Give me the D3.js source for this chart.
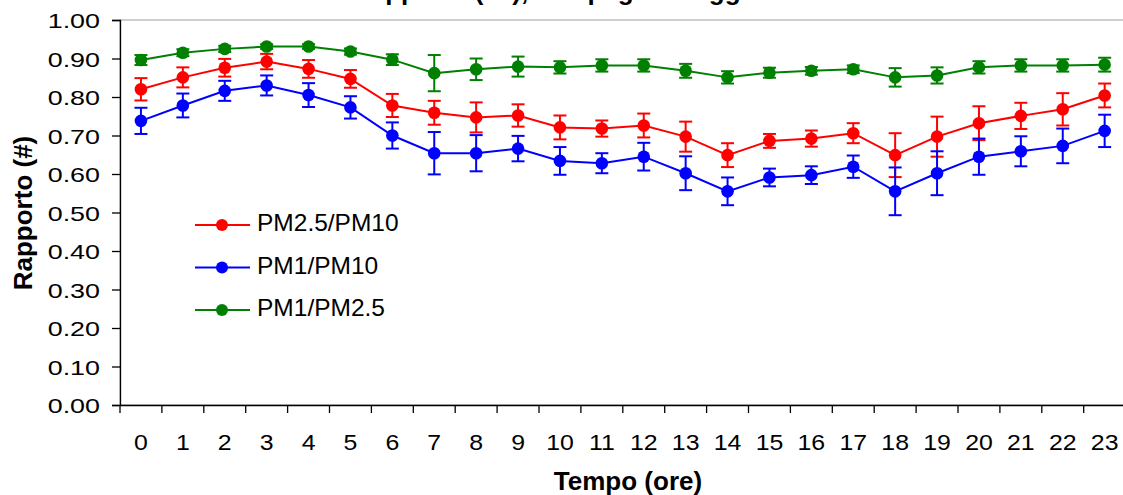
<!DOCTYPE html>
<html>
<head>
<meta charset="utf-8">
<script src="https://cdn.jsdelivr.net/npm/d3@7"></script>
<style>
  body { margin: 0; background: #fff; }
  svg { display: block; font-family: "Liberation Sans", Arial, sans-serif; }
</style>
</head>
<body>
<div id="chart-area"></div>
<script>
// values
var hours = [0,1,2,3,4,5,6,7,8,9,10,11,12,13,14,15,16,17,18,19,20,21,22,23];
var yTicks = [0,0.1,0.2,0.3,0.4,0.5,0.6,0.7,0.8,0.9,1.0];

var pm25pm10 = [0.820,0.851,0.876,0.892,0.873,0.847,0.778,0.759,0.747,0.752,0.721,0.718,0.726,0.697,0.649,0.686,0.692,0.706,0.649,0.697,0.732,0.751,0.768,0.804];
var pm25pm10Err = [0.029,0.026,0.023,0.020,0.023,0.023,0.030,0.031,0.039,0.029,0.031,0.021,0.031,0.039,0.031,0.018,0.021,0.026,0.057,0.052,0.044,0.034,0.042,0.031];

var pm1pm10 = [0.738,0.778,0.816,0.830,0.805,0.773,0.700,0.654,0.654,0.666,0.634,0.628,0.645,0.602,0.555,0.591,0.597,0.619,0.555,0.602,0.645,0.659,0.673,0.712];
var pm1pm10Err = [0.034,0.031,0.026,0.026,0.031,0.029,0.034,0.055,0.047,0.033,0.036,0.026,0.036,0.044,0.036,0.023,0.023,0.029,0.062,0.057,0.047,0.039,0.045,0.042];

var pm1pm25 = [0.896,0.915,0.925,0.931,0.931,0.918,0.897,0.862,0.872,0.879,0.877,0.882,0.882,0.868,0.851,0.863,0.868,0.872,0.851,0.856,0.877,0.882,0.882,0.884];
var pm1pm25Err = [0.013,0.009,0.008,0.006,0.006,0.008,0.014,0.047,0.028,0.026,0.016,0.016,0.016,0.018,0.016,0.013,0.010,0.010,0.024,0.021,0.016,0.016,0.016,0.018];

var seriesNames = ["PM2.5/PM10", "PM1/PM10", "PM1/PM2.5"];
var seriesColors = ["#ff0000", "#0000ff", "#008000"];

var series = [
	{name: seriesNames[0], color: seriesColors[0], values: pm25pm10, err: pm25pm10Err},
	{name: seriesNames[1], color: seriesColors[1], values: pm1pm10, err: pm1pm10Err},
	{name: seriesNames[2], color: seriesColors[2], values: pm1pm25, err: pm1pm25Err}
];

var W = 1123, H = 495;
var margin = {left:120, top:20};
var plotW = 24 * 41.9;
var plotH = 385;

var svg = d3.select("#chart-area")
	.append("svg")
		.attr("width", W)
		.attr("height", H);

// title, mostly cut off at the top (as in the original)
svg.append("text")
	.attr("x", 352)
	.attr("y", 0)
	.attr("font-size", "26px")
	.attr("font-weight", "bold")
	.text("Rapporto (##), campagna maggio");

var g = svg.append("g")
	.attr("transform", "translate(" + margin.left + "," + margin.top + ")");

var x = d3.scaleBand().domain(hours).range([0, plotW]);
var y = d3.scaleLinear().domain([0, 1]).range([plotH, 0]);

// plot area border (grey)
g.append("rect")
	.attr("x", 0).attr("y", 0)
	.attr("width", plotW).attr("height", plotH)
	.attr("fill", "none")
	.attr("stroke", "#a0a0a0")
	.attr("stroke-width", 1);

// y axis
var yAxis = g.append("g")
	.call(d3.axisLeft(y).tickValues(yTicks).tickFormat(d3.format(".2f")).tickSize(8).tickPadding(12));
yAxis.select(".domain").attr("stroke", "#000").attr("stroke-width", 1.3);
yAxis.selectAll(".tick line").attr("stroke", "#000").attr("stroke-width", 1.3);
yAxis.selectAll(".tick text")
	.attr("font-size", "21px")
	.attr("font-family", "Liberation Sans, Arial, sans-serif")
	.attr("fill", "#000")
	.attr("x", -20 / 1.28)
	.attr("dy", "0.36em")
	.attr("transform", "scale(1.28,1)");

// x axis: labels at band centres, ticks at band edges
var xAxis = g.append("g")
	.attr("transform", "translate(0," + plotH + ")")
	.call(d3.axisBottom(x).tickSize(0).tickPadding(29));
xAxis.select(".domain").attr("stroke", "#000").attr("stroke-width", 1.3);
xAxis.selectAll(".tick text")
	.attr("font-size", "22px")
	.attr("font-family", "Liberation Sans, Arial, sans-serif")
	.attr("fill", "#000")
	.attr("transform", "scale(1.13,1)");

xAxis.selectAll(".edge")
	.data(hours.concat([hours.length]))
	.enter().append("line")
		.attr("class", "edge")
		.attr("x1", function(d){ return d < hours.length ? x(d) : plotW; })
		.attr("x2", function(d){ return d < hours.length ? x(d) : plotW; })
		.attr("y1", 0).attr("y2", 8)
		.attr("stroke", "#000")
		.attr("stroke-width", 1.3);

// axis titles
svg.append("text")
	.attr("x", 628)
	.attr("y", 490)
	.attr("text-anchor", "middle")
	.attr("font-size", "26px")
	.attr("font-weight", "bold")
	.text("Tempo (ore)");

svg.append("text")
	.attr("transform", "translate(32,213) rotate(-90)")
	.attr("text-anchor", "middle")
	.attr("font-size", "26px")
	.attr("font-weight", "bold")
	.text("Rapporto (#)");

// series
var line = d3.line()
	.x(function(d, i){ return x(hours[i]) + x.bandwidth() / 2; })
	.y(function(d){ return y(d); });

var cap = 6.5;

series.forEach(function(s){
	var sg = g.append("g");
	var cx = function(d, i){ return x(hours[i]) + x.bandwidth() / 2; };

	// error bars
	var eb = sg.selectAll(".err")
		.data(s.values)
		.enter().append("g")
			.attr("class", "err")
			.attr("stroke", s.color)
			.attr("stroke-width", 2);
	eb.append("line")
		.attr("x1", cx).attr("x2", cx)
		.attr("y1", function(d, i){ return y(d + s.err[i]); })
		.attr("y2", function(d, i){ return y(d - s.err[i]); });
	eb.append("line")
		.attr("x1", function(d, i){ return cx(d, i) - cap; })
		.attr("x2", function(d, i){ return cx(d, i) + cap; })
		.attr("y1", function(d, i){ return y(d + s.err[i]); })
		.attr("y2", function(d, i){ return y(d + s.err[i]); });
	eb.append("line")
		.attr("x1", function(d, i){ return cx(d, i) - cap; })
		.attr("x2", function(d, i){ return cx(d, i) + cap; })
		.attr("y1", function(d, i){ return y(d - s.err[i]); })
		.attr("y2", function(d, i){ return y(d - s.err[i]); });

	sg.append("path")
		.attr("d", line(s.values))
		.attr("fill", "none")
		.attr("stroke", s.color)
		.attr("stroke-width", 2);

	sg.selectAll("circle")
		.data(s.values)
		.enter().append("circle")
			.attr("cx", cx)
			.attr("cy", function(d){ return y(d); })
			.attr("r", 6.3)
			.attr("fill", s.color);
});

// legend
var legend = svg.append("g");
series.forEach(function(s, i){
	var ly = 225 + i * 42.5;
	legend.append("line")
		.attr("x1", 195).attr("x2", 250)
		.attr("y1", ly).attr("y2", ly)
		.attr("stroke", s.color)
		.attr("stroke-width", 2);
	legend.append("circle")
		.attr("cx", 222).attr("cy", ly)
		.attr("r", 6)
		.attr("fill", s.color);
	legend.append("text")
		.attr("x", 257)
		.attr("y", ly + 6)
		.attr("font-size", "24.5px")
		.text(s.name);
});
</script>
</body>
</html>
